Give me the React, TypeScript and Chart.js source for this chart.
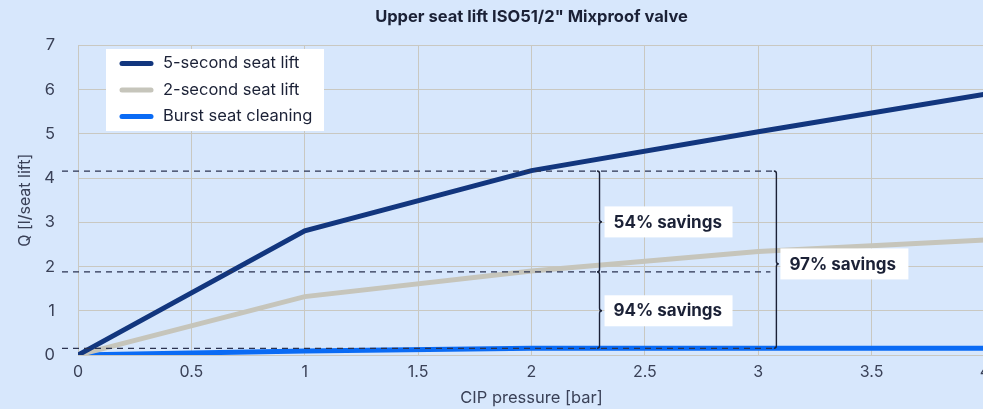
import { useEffect, useRef } from 'react';
import { Chart, registerables } from 'chart.js';

Chart.register(...registerables);

// ---- data ----
const pressures = [0, 1, 2, 3, 4];
const fiveSecond = [0, 2.81, 4.17, 5.05, 5.9];
const twoSecond = [0, 1.32, 1.9, 2.34, 2.6];
const burstCleaning = [0, 0.09, 0.15, 0.15, 0.15];
const seriesLabels = ['5-second seat lift', '2-second seat lift', 'Burst seat cleaning'];
const seriesColors = ['#12367e', '#c6c5bb', '#0a6bf5'];

// annotation values (data units)
const savingLevels = [4.16, 1.88, 0.15];
const leftBraceX = 2.3;
const rightBraceX = 3.08;
const savingsTexts = ['54% savings', '94% savings', '97% savings'];
const savingsLabelY = [3.01, 1.0, 2.06];

const chartTitle = 'Upper seat lift ISO51/2" Mixproof valve';
const xTitle = 'CIP pressure [bar]';
const yTitle = 'Q [l/seat lift]';

const BG = '#d7e7fc';
const GRID = '#c9c8c1';
const TEXT = '#1b2136';
const TICK = '#3a4157';
const FONT = 'Inter, "Noto Sans", sans-serif';

const W = 1064;
const H = 409;

const fmt = (v: number) => String(Math.round(v * 10) / 10);

const extrasPlugin = {
  id: 'extras',
  beforeDraw(chart: any) {
    const { ctx } = chart;
    ctx.save();
    ctx.fillStyle = BG;
    ctx.fillRect(0, 0, chart.width, chart.height);
    ctx.restore();
  },
  afterDatasetsDraw(chart: any) {
    const { ctx, chartArea } = chart;
    const xs = chart.scales.x;
    const ys = chart.scales.y;
    const lx = xs.getPixelForValue(leftBraceX);
    const rx = xs.getPixelForValue(rightBraceX);
    const ly = savingLevels.map((v) => ys.getPixelForValue(v));
    ctx.save();
    // dashed level lines
    ctx.strokeStyle = '#2b3350';
    ctx.lineWidth = 1.3;
    ctx.setLineDash([6, 5]);
    ly.forEach((y, i) => {
      ctx.beginPath();
      ctx.moveTo(chartArea.left - 16, y);
      ctx.lineTo(i === 1 ? rx - 6 : rx, y);
      ctx.stroke();
    });
    ctx.setLineDash([]);
    // braces
    ctx.strokeStyle = TEXT;
    ctx.lineWidth = 1.4;
    const brace = (x: number, y1: number, y2: number, ym: number) => {
      const r = 2.5;
      ctx.beginPath();
      ctx.moveTo(x - r, y1);
      ctx.quadraticCurveTo(x, y1, x, y1 + r);
      ctx.lineTo(x, ym - r);
      ctx.quadraticCurveTo(x, ym, x + r, ym);
      ctx.quadraticCurveTo(x, ym, x, ym + r);
      ctx.lineTo(x, y2 - r);
      ctx.quadraticCurveTo(x, y2, x - r, y2);
      ctx.stroke();
    };
    const my = savingsLabelY.map((v) => ys.getPixelForValue(v));
    brace(lx, ly[0], ly[1], my[0]);
    brace(lx, ly[1], ly[2], my[1]);
    brace(rx, ly[0], ly[2], my[2]);
    // label boxes
    ctx.font = `bold 17px ${FONT}`;
    ctx.textBaseline = 'middle';
    ctx.textAlign = 'left';
    const boxX = [lx + 5, lx + 5, rx + 4];
    savingsTexts.forEach((t, i) => {
      ctx.fillStyle = '#ffffff';
      ctx.fillRect(boxX[i], my[i] - 15.5, 128, 31);
      ctx.fillStyle = TEXT;
      ctx.fillText(t, boxX[i] + 9, my[i] + 0.5);
    });
    ctx.restore();
  },
  afterDraw(chart: any) {
    const { ctx, chartArea } = chart;
    ctx.save();
    const bx = chartArea.left + 28;
    const by = chartArea.top + 3.5;
    ctx.fillStyle = '#ffffff';
    ctx.fillRect(bx, by, 218, 82);
    ctx.lineCap = 'round';
    ctx.lineWidth = 5;
    ctx.font = `16.5px ${FONT}`;
    ctx.textBaseline = 'middle';
    ctx.textAlign = 'left';
    seriesLabels.forEach((label, i) => {
      const y = by + 14.5 + i * 26.5;
      ctx.strokeStyle = seriesColors[i];
      ctx.beginPath();
      ctx.moveTo(bx + 16, y);
      ctx.lineTo(bx + 45, y);
      ctx.stroke();
      ctx.fillStyle = TEXT;
      ctx.fillText(label, bx + 57, y);
    });
    ctx.restore();
  },
};

export default function App() {
  const ref = useRef<HTMLCanvasElement | null>(null);

  useEffect(() => {
    document.body.style.margin = '0';
    document.body.style.background = BG;
    document.documentElement.style.overflow = 'hidden';
    const canvas = ref.current;
    if (!canvas) return;
    const series = [fiveSecond, twoSecond, burstCleaning];
    const chart = new Chart(canvas, {
      type: 'line',
      data: {
        datasets: series.map((vals, i) => ({
          label: seriesLabels[i],
          data: pressures.map((p, j) => ({ x: p, y: vals[j] })),
          borderColor: seriesColors[i],
          backgroundColor: seriesColors[i],
          borderWidth: 5,
          pointRadius: 0,
          tension: 0,
          fill: false,
        })),
      },
      options: {
        responsive: false,
        animation: false,
        devicePixelRatio: 1,
        layout: { padding: { left: 0, right: W - 985, top: 0, bottom: 0 } },
        plugins: {
          legend: { display: false },
          tooltip: { enabled: false },
          title: {
            display: true,
            fullSize: false,
            text: chartTitle,
            color: TEXT,
            font: { family: FONT, size: 16.5, weight: 'bold' },
            padding: { top: 7, bottom: 18.7 },
          },
        },
        scales: {
          x: {
            type: 'linear',
            min: 0,
            max: 4,
            afterFit: (s: any) => {
              s.height = 54;
            },
            ticks: {
              stepSize: 0.5,
              color: TICK,
              font: { family: FONT, size: 16 },
              padding: 7.4,
              maxRotation: 0,
              callback: (v: any) => fmt(Number(v)),
            },
            grid: { color: GRID, lineWidth: 1, drawTicks: false },
            border: { color: GRID },
            title: {
              display: true,
              text: xTitle,
              color: TICK,
              font: { family: FONT, size: 16.5 },
              padding: { top: 0, bottom: 1.1 },
            },
          },
          y: {
            type: 'linear',
            min: 0,
            max: 7,
            afterFit: (s: any) => {
              s.width = 78;
            },
            ticks: {
              stepSize: 1,
              color: TICK,
              font: { family: FONT, size: 16.5 },
              padding: 23,
              callback: (v: any) => fmt(Number(v)),
            },
            grid: { color: GRID, lineWidth: 1, drawTicks: false },
            border: { color: GRID },
            title: {
              display: true,
              text: yTitle,
              color: TICK,
              font: { family: FONT, size: 16 },
              padding: { top: 15.9, bottom: 0 },
            },
          },
        },
      },
      plugins: [extrasPlugin],
    } as any);
    return () => chart.destroy();
  }, []);

  return (
    <div style={{ width: W, height: H, overflow: 'hidden' }}>
      <canvas ref={ref} width={W} height={H} style={{ display: 'block', width: W, height: H }} />
    </div>
  );
}
